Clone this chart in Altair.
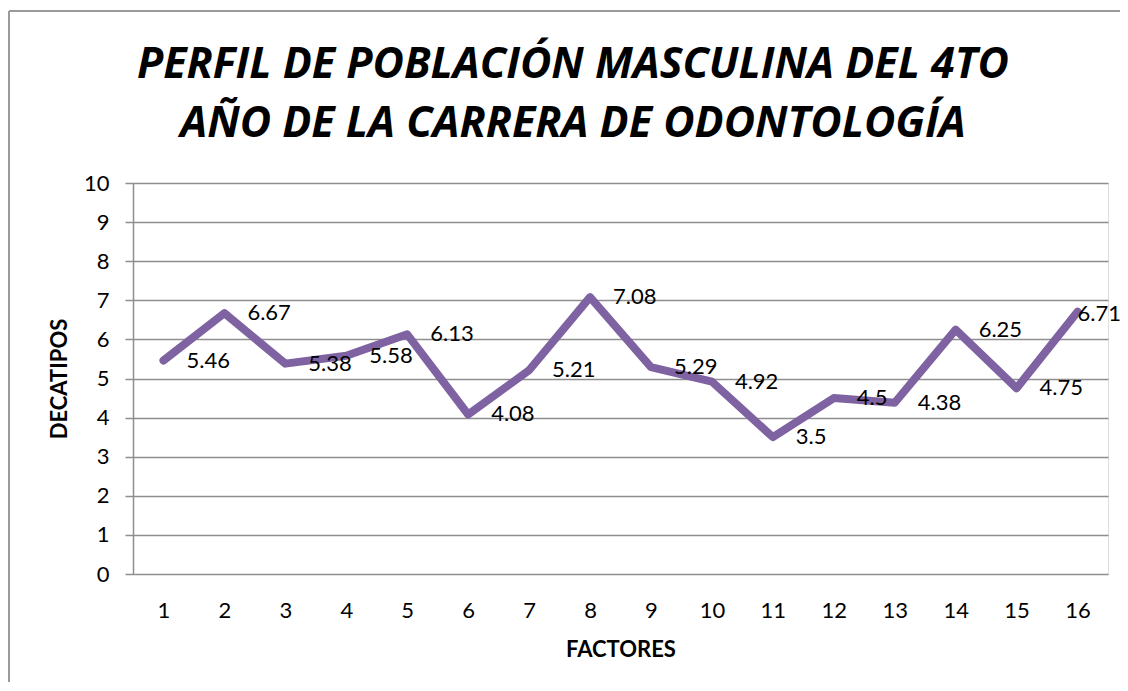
import altair as alt
import pandas as pd

titulo = ["PERFIL DE POBLACIÓN MASCULINA DEL 4TO", "AÑO DE LA CARRERA DE ODONTOLOGÍA"]
factores = [str(i) for i in range(1, 17)]
decatipos = [5.46, 6.67, 5.38, 5.58, 6.13, 4.08, 5.21, 7.08, 5.29, 4.92, 3.5, 4.5, 4.38, 6.25, 4.75, 6.71]
etiquetas = ["5.46", "6.67", "5.38", "5.58", "6.13", "4.08", "5.21", "7.08", "5.29", "4.92", "3.5", "4.5", "4.38", "6.25", "4.75", "6.71"]

df = pd.DataFrame({"factor": factores, "valor": decatipos, "etiqueta": etiquetas})

FONT = "Lato"
GRID = "#8e8e8e"
LINE = "#7e62a1"

x = alt.X("factor:N", sort=factores,
          scale=alt.Scale(type="point", padding=0.5),
          axis=alt.Axis(title="FACTORES", labelAngle=0, ticks=False, domain=False,
                        labelPadding=26, titlePadding=18, labelFontSize=22,
                        titleFontSize=22, titleFontWeight="bold", labelFont=FONT,
                        titleFont=FONT, labelColor="black", titleColor="black"))
y = alt.Y("valor:Q", scale=alt.Scale(domain=[0, 10], nice=False),
          axis=alt.Axis(title="DECATIPOS", values=list(range(0, 11)), tickSize=8,
                        tickColor=GRID, tickWidth=1.5, domainColor=GRID, domainWidth=1.5,
                        gridColor=GRID, gridWidth=1.5, gridOpacity=1,
                        labelPadding=16, titlePadding=12, labelFontSize=22,
                        titleFontSize=22, titleFontWeight="bold", labelFont=FONT,
                        titleFont=FONT, labelColor="black", titleColor="black"))

base = alt.Chart(df)

line = base.mark_line(color=LINE, strokeWidth=8, strokeCap="round", strokeJoin="round").encode(x=x, y=y)

labels = base.transform_filter(alt.datum.factor != "16").mark_text(
    align="left", baseline="middle", dx=23, fontSize=22, font=FONT, color="black"
).encode(x=x, y=y, text="etiqueta:N")
label_last = base.transform_filter(alt.datum.factor == "16").mark_text(
    align="left", baseline="middle", dx=0, dy=2, fontSize=22, font=FONT, color="black"
).encode(x=x, y=y, text="etiqueta:N")

title_style = dict(font="Open Sans", fontSize=43, fontWeight="bold", fontStyle="italic",
                   color="black", align="center", baseline="alphabetic")
t1 = alt.Chart(pd.DataFrame({"t": [titulo[0]]})).mark_text(**title_style).encode(
    text="t:N", x=alt.value(440), y=alt.value(-105))
t2 = alt.Chart(pd.DataFrame({"t": [titulo[1]]})).mark_text(**title_style).encode(
    text="t:N", x=alt.value(440), y=alt.value(-46))

border_top = alt.Chart(df).mark_rule(color="#9a9a9a", strokeWidth=1.5).encode(
    x=alt.value(-124), x2=alt.value(1200), y=alt.value(-172))
border_left = alt.Chart(df).mark_rule(color="#9a9a9a", strokeWidth=1.5).encode(
    x=alt.value(-124), y=alt.value(-172), y2=alt.value(520))

chart = alt.layer(border_top, border_left, line, labels, label_last, t1, t2).properties(
    width=975, height=391,
    autosize=alt.AutoSizeParams(type="none"),
    padding={"left": 125, "top": 175, "right": 12, "bottom": 108},
).configure_view(stroke=None).configure(background="white")

chart.save("out.html", embed_options={"renderer": "svg", "actions": False})
